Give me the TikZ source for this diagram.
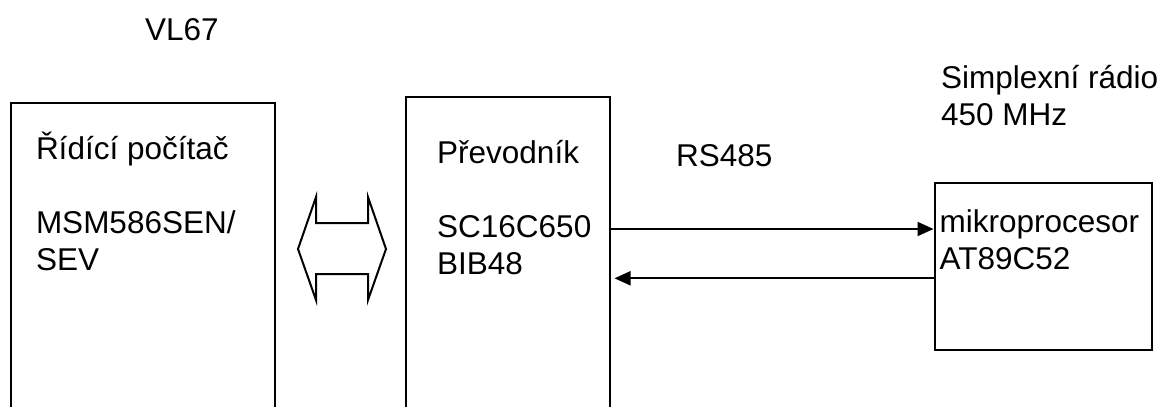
\documentclass[tikz,border=0pt]{standalone}
\usepackage{fontspec}
\setmainfont{Liberation Sans}
\usetikzlibrary{arrows.meta}

\begin{document}
\begin{tikzpicture}[x=1pt,y=-1pt,>={Triangle[length=16pt,width=14pt]},
  box/.style={draw,line width=2pt,inner sep=0pt,anchor=north west},
  lbl/.style={anchor=base west,inner sep=0pt,font=\fontsize{31.5}{37}\selectfont},
  sig/.style={line width=2pt}]
\clip (0,0) rectangle (1165,407);
% blocks
\node[box,minimum width=264pt,minimum height=340pt] (pc) at (9.5,101.7) {};
\node[box,minimum width=204pt,minimum height=345pt] (conv) at (404.5,96) {};
\node[box,minimum width=217pt,minimum height=167.3pt] (mcu) at (933.5,181.7) {};
% texts
\node[lbl] (vl) at (145,40.7) {VL67};
\node[lbl] (pcname) at (35.8,159.5) {Řídící počítač};
\node[lbl] (pctype) at (35.8,233) {MSM586SEN/};
\node[lbl] (pcsub) at (35.8,270) {SEV};
\node[lbl] (convname) at (437,163.3) {Převodník};
\node[lbl] (convchip) at (437,237) {SC16C650};
\node[lbl] (convsub) at (437,274) {BIB48};
\node[lbl] (radio) at (940.8,88.3) {Simplexní rádio};
\node[lbl] (freq) at (940.8,125) {450 MHz};
\node[lbl] (mcuname) at (939.5,232.7) {mikroprocesor};
\node[lbl] (mcuchip) at (939.5,269) {AT89C52};
\node[lbl] (bus) at (676,166) {RS485};
% bus between computer and converter
\coordinate (isa) at (342,249);
\draw[sig,line join=miter] ([xshift=-44pt]isa) -- ++(18,-52) -- ++(0,26) -- ++(52,0) -- ++(0,-26)
  -- ++(18,52) -- ++(-18,51) -- ++(0,-26) -- ++(-52,0) -- ++(0,26) -- cycle;
% serial lines
\coordinate (tx) at (770,229);
\coordinate (rx) at (770,278.3);
\draw[sig,->] (conv.east |- tx) -- (mcu.west |- tx);
\draw[sig,->,shorten >=4pt] (mcu.west |- rx) -- (conv.east |- rx);
\end{tikzpicture}
\end{document}
